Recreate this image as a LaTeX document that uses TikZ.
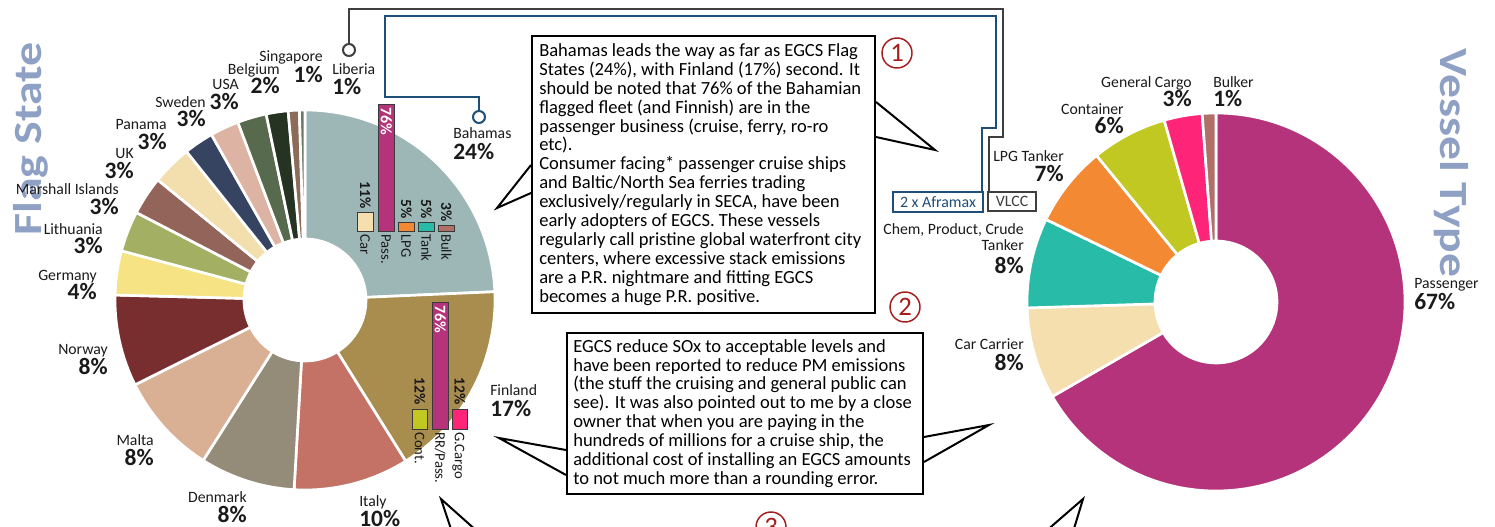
\documentclass[tikz,border=0pt]{standalone}
\usepackage{fontspec}
\setmainfont{Carlito}
\usetikzlibrary{calc}

% text and line colours
\definecolor{lbl}{HTML}{1A1A1A}
\definecolor{ttlc}{HTML}{8EA1C5}
\definecolor{gline}{HTML}{3F3F3F}
\definecolor{bline}{HTML}{1F4E79}
\definecolor{numred}{HTML}{A51C1C}
\definecolor{barline}{HTML}{3A3A3A}
% flag state slices
\definecolor{cBah}{HTML}{9DB6B6}
\definecolor{cFin}{HTML}{A88D4F}
\definecolor{cIta}{HTML}{C47166}
\definecolor{cDen}{HTML}{948B79}
\definecolor{cMal}{HTML}{DAB095}
\definecolor{cNor}{HTML}{782D2F}
\definecolor{cGer}{HTML}{F5E384}
\definecolor{cLit}{HTML}{A3AF62}
\definecolor{cMar}{HTML}{93645A}
\definecolor{cUK}{HTML}{F3DFAE}
\definecolor{cPan}{HTML}{364461}
\definecolor{cSwe}{HTML}{DDB3A3}
\definecolor{cUSA}{HTML}{586A4E}
\definecolor{cBel}{HTML}{263322}
\definecolor{cSin}{HTML}{8C6C58}
\definecolor{cLib}{HTML}{6C7868}
% vessel type slices
\definecolor{cPas}{HTML}{B5337A}
\definecolor{cCar}{HTML}{F5DFAE}
\definecolor{cChe}{HTML}{27BBA8}
\definecolor{cLPG}{HTML}{F38933}
\definecolor{cCon}{HTML}{C2C822}
\definecolor{cGen}{HTML}{FE2478}
\definecolor{cBul}{HTML}{B07068}

% annulus sector: inner r, outer R, start angle, end angle, colour
\newcommand\ringslice[5]{%
  \path[fill=#5, draw=white, line width=2pt, line join=round]
    (#3:#2) arc[start angle=#3, end angle=#4, radius=#2]
    -- (#4:#1) arc[start angle=#4, end angle=#3, radius=#1] -- cycle;}

% two-line slice label: id, anchor side, x, name baseline, percent baseline, name, percent
\newcommand\pielabel[7]{%
  \node[nm, anchor=base #2] (#1-n) at (#3,-#4) {#6};
  \node[pc, anchor=base #2] (#1-p) at (#3,-#5) {#7};}

% small column of an inset chart: x0, x1, top, base, colour
\newcommand\insetbar[5]{%
  \path[fill=#5, draw=barline, line width=0.7pt] (#1,-#4) rectangle (#2,-#3);}

\tikzset{
  nm/.style={font=\fontsize{11.8}{13}\selectfont, text=lbl, inner sep=0pt},
  pc/.style={font=\fontsize{17.6}{19}\selectfont\bfseries, text=lbl, inner sep=0pt},
  ttl/.style={font=\fontsize{30}{32}\selectfont\bfseries, text=ttlc, inner sep=0pt},
  ilab/.style={font=\fontsize{11}{12}\selectfont, text=lbl, inner sep=0pt, rotate=-90,
    text height=7pt, text depth=0pt},
  ipct/.style={font=\fontsize{11.6}{12}\selectfont\bfseries, text=lbl, inner sep=0pt, rotate=-90,
    text height=7.4pt, text depth=0pt},
  iwht/.style={font=\fontsize{12}{12}\selectfont\bfseries, text=white, inner sep=0pt, rotate=-90,
    text height=7.6pt, text depth=0pt},
  marker/.style={circle, fill=white, line width=1.5pt, minimum size=9pt, inner sep=0pt},
  tagbox/.style={rectangle, fill=white, line width=1.5pt, inner sep=0pt,
    font=\fontsize{11.9}{12}\selectfont},
  conn/.style={line width=1.5pt},
  boxframe/.style={rectangle, draw=black, fill=white, line width=1.5pt, inner sep=0pt},
  boxtext/.style={font=\fontsize{13.9}{14.2}\selectfont, text=black, align=left, inner sep=0pt},
  tail/.style={draw=black, line width=1.5pt, line join=miter},
  numc/.style={circle, draw=numred, line width=1.1pt, minimum size=22.5pt, inner sep=0pt,
    text=numred, font=\fontsize{20}{20}\selectfont},
}

\begin{document}
\begin{tikzpicture}[x=0.75pt, y=0.75pt]
\useasboundingbox (0,0) rectangle (1495,-527);
\clip (0,0) rectangle (1495,-527);

% ---------- titles (behind the labels) ----------
\node[ttl, rotate=90] (flagttl) at (31,-139) {\scalebox{1.2}[1]{Flag State}};
\node[ttl, rotate=-90] (vesttl) at (1451,-163) {\scalebox{1.19}[1]{Vessel Type}};

% ---------- flag state ring ----------
\begin{scope}[shift={(305,-300)}]
  \ringslice{61}{190}{90}{2.5}{cBah}
  \ringslice{61}{190}{2.5}{-58}{cFin}
  \ringslice{61}{190}{-58}{-93.3}{cIta}
  \ringslice{61}{190}{-93.3}{-122.4}{cDen}
  \ringslice{61}{190}{-122.4}{-153.5}{cMal}
  \ringslice{61}{190}{-153.5}{-181.5}{cNor}
  \ringslice{61}{190}{-181.5}{-195}{cGer}
  \ringslice{61}{190}{-195}{-207.4}{cLit}
  \ringslice{61}{190}{-207.4}{-219.2}{cMar}
  \ringslice{61}{190}{-219.2}{-231.4}{cUK}
  \ringslice{61}{190}{-231.4}{-240.5}{cPan}
  \ringslice{61}{190}{-240.5}{-249.3}{cSwe}
  \ringslice{61}{190}{-249.3}{-258.2}{cUSA}
  \ringslice{61}{190}{-258.2}{-264.9}{cBel}
  \ringslice{61}{190}{-264.9}{-268.3}{cSin}
  \ringslice{61}{190}{-268.3}{-270}{cLib}
\end{scope}

% ---------- vessel type ring ----------
\begin{scope}[shift={(1216,-302)}]
  \ringslice{61}{189}{90}{-150}{cPas}
  \ringslice{61}{189}{-150}{-178.2}{cCar}
  \ringslice{61}{189}{-178.2}{-205.9}{cChe}
  \ringslice{61}{189}{-205.9}{-230.8}{cLPG}
  \ringslice{61}{189}{-230.8}{-254.1}{cCon}
  \ringslice{61}{189}{-254.1}{-265.8}{cGen}
  \ringslice{61}{189}{-265.8}{-270}{cBul}
\end{scope}

% ---------- Bahamas fleet inset ----------
\insetbar{357}{373}{212}{231}{cCar}
\insetbar{378}{394}{104}{231}{cPas}
\insetbar{398}{414}{222}{231}{cLPG}
\insetbar{418}{434}{222}{231}{cChe}
\insetbar{438}{454}{225}{231}{cBul}
\node[ipct, anchor=east] (bi-car-p) at (365,-209) {11\%};
\node[iwht, anchor=west] (bi-pas-p) at (386,-107) {76\%};
\node[ipct, anchor=east] (bi-lpg-p) at (406,-219) {5\%};
\node[ipct, anchor=east] (bi-tnk-p) at (426,-219) {5\%};
\node[ipct, anchor=east] (bi-blk-p) at (446,-222) {3\%};
\node[ilab, anchor=west] (bi-car-n) at (365,-234) {Car};
\node[ilab, anchor=west] (bi-pas-n) at (386,-234) {Pass.};
\node[ilab, anchor=west] (bi-lpg-n) at (406,-234) {LPG};
\node[ilab, anchor=west] (bi-tnk-n) at (426,-234) {Tank};
\node[ilab, anchor=west] (bi-blk-n) at (446,-234) {Bulk};

% ---------- Finland fleet inset ----------
\insetbar{412}{427}{409}{429}{cCon}
\insetbar{432}{448}{302}{429}{cPas}
\insetbar{452}{467}{409}{429}{cGen}
\node[ipct, anchor=east] (fi-con-p) at (419.5,-405) {12\%};
\node[iwht, anchor=west] (fi-pas-p) at (440,-305) {76\%};
\node[ipct, anchor=east] (fi-gen-p) at (459.5,-405) {12\%};
\node[ilab, anchor=west] (fi-con-n) at (419.5,-432) {Cont.};
\node[ilab, anchor=west] (fi-pas-n) at (440,-432) {RR/Pass.};
\node[ilab, anchor=west] (fi-gen-n) at (459.5,-432) {G.Cargo};

% ---------- flag state labels ----------
\pielabel{sin}{east}{323}{62}{83}{Singapore}{1\%}
\pielabel{lib}{west}{332}{75}{95}{Liberia}{1\%}
\pielabel{bel}{east}{280}{75}{94}{Belgium}{2\%}
\pielabel{usa}{east}{239}{90}{110}{USA}{3\%}
\pielabel{swe}{east}{206}{108}{127}{Sweden}{3\%}
\pielabel{pan}{east}{167}{130}{150}{Panama}{3\%}
\pielabel{uk}{east}{134}{159}{179}{UK}{3\%}
\pielabel{mar}{east}{119}{195}{215}{Marshall Islands}{3\%}
\pielabel{lit}{east}{103}{235}{254}{Lithuania}{3\%}
\pielabel{ger}{east}{97}{281}{300}{Germany}{4\%}
\pielabel{nor}{east}{108}{354}{374}{Norway}{8\%}
\pielabel{mal}{east}{154}{445}{465}{Malta}{8\%}
\pielabel{den}{east}{247}{502}{522}{Denmark}{8\%}
\pielabel{ita}{west}{359}{506}{526}{Italy}{10\%}
\pielabel{fin}{west}{490}{395}{416}{Finland}{17\%}
\pielabel{bah}{west}{453}{139}{160}{Bahamas}{24\%}

% ---------- vessel type labels ----------
\pielabel{bul}{west}{1213}{88}{107}{Bulker}{1\%}
\pielabel{gen}{east}{1192}{88}{107}{General Cargo}{3\%}
\pielabel{con}{east}{1124}{115}{134}{Container}{6\%}
\pielabel{lpg}{east}{1064}{162}{182}{LPG Tanker}{7\%}
\node[nm, anchor=base east] (che-n1) at (1024,-235) {Chem, Product, Crude};
\pielabel{che}{east}{1024}{251}{274}{Tanker}{8\%}
\pielabel{car}{east}{1024}{349}{370}{Car Carrier}{8\%}
\pielabel{pas}{west}{1414}{289}{309}{Passenger}{67\%}

% ---------- markers, tags and their connectors ----------
\node[marker, draw=gline] (libmk) at (349,-50) {};
\node[marker, draw=bline] (bahmk) at (479,-117) {};
\node[tagbox, draw=gline, text=gline, minimum width=36pt, minimum height=14.25pt] (vlcc) at (1012,-201.5) {VLCC};
\node[tagbox, draw=bline, text=bline, minimum width=67.5pt, minimum height=15pt] (afra) at (938,-202) {2 x Aframax};

\coordinate (g1) at (1003,-9);
\coordinate (g2) at (989,-137);
\draw[conn, draw=gline] (libmk.north) |- (g1) |- (g2) -- (g2 |- vlcc.north);
\coordinate (b1) at (385,-97);
\coordinate (b2) at (996,-16);
\coordinate (b3) at (982,-128);
\draw[conn, draw=bline] (bahmk.north) |- (b1) |- (b2) |- (b3) -- (b3 |- afra.north);

% ---------- callout 1 ----------
\node[boxframe, anchor=north west, minimum width=257.25pt, minimum height=207.75pt] (box1) at (531,-35) {};
\node[boxtext, anchor=west] (box1t) at ($(box1.west)+(8,0)$) {Bahamas leads the way as far as EGCS Flag\\
States (24\%), with Finland (17\%) second. It\\
should be noted that 76\% of the Bahamian\\
flagged fleet (and Finnish) are in the\\
passenger business (cruise, ferry, ro-ro\\
etc).\\
Consumer facing* passenger cruise ships\\
and Baltic/North Sea ferries trading\\
exclusively/regularly in SECA, have been\\
early adopters of EGCS. These vessels\\
regularly call pristine global waterfront city\\
centers, where excessive stack emissions\\
are a P.R. nightmare and fitting EGCS\\
becomes a huge P.R. positive.};
\coordinate (tip1l) at (497,-208);
\coordinate (tip1r) at (935,-150);
\draw[tail] ($(box1.north west)+(0,-130)$) -- (tip1l) -- ($(box1.north west)+(0,-158)$);
\draw[tail] ($(box1.north east)+(0,-67)$) -- (tip1r) -- ($(box1.north east)+(0,-102)$);

% ---------- callout 2 ----------
\node[boxframe, anchor=north west, minimum width=267pt, minimum height=120.75pt] (box2) at (566,-332) {};
\node[boxtext, anchor=west] (box2t) at ($(box2.west)+(7,0)$) {EGCS reduce SOx to acceptable levels and\\
have been reported to reduce PM emissions\\
(the stuff the cruising and general public can\\
see). It was also pointed out to me by a close\\
owner that when you are paying in the\\
hundreds of millions for a cruise ship, the\\
additional cost of installing an EGCS amounts\\
to not much more than a rounding error.};
\coordinate (tip2l) at (499,-438);
\coordinate (tip2r) at (989,-425);
\draw[tail] ($(box2.north west)+(0,-118)$) -- (tip2l) -- ($(box2.north west)+(0,-143)$);
\draw[tail] ($(box2.north east)+(0,-105)$) -- (tip2r) -- ($(box2.north east)+(0,-130)$);

% ---------- callout 3 pointers (box lies below the frame) ----------
\coordinate (tip3l) at (441,-499);
\coordinate (tip3r) at (1083,-499);
\draw[tail] (452,-532) -- (tip3l) -- (478,-532);
\draw[tail] (1045,-532) -- (tip3r) -- (1073,-532);

% ---------- numbered markers ----------
\node[numc] (num1) at (897,-53) {1};
\node[numc] (num2) at (905,-307) {2};
\node[numc] (num3) at (771,-527) {3};
\end{tikzpicture}
\end{document}
